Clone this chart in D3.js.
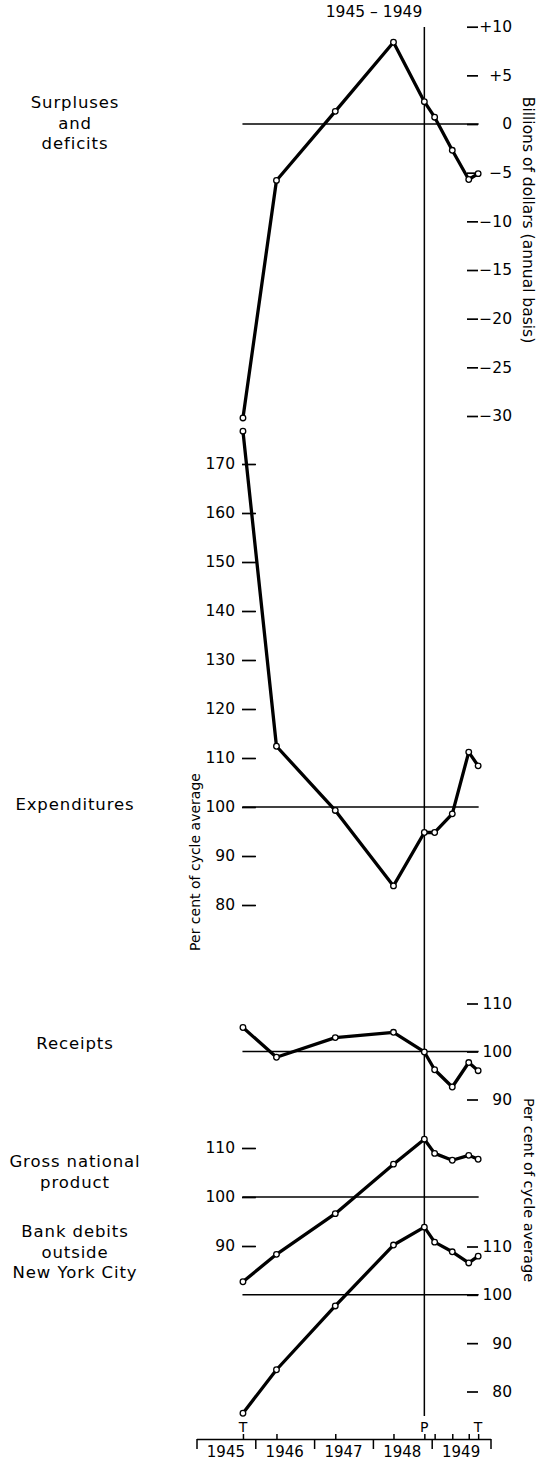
<!DOCTYPE html>
<html>
<head>
<meta charset="utf-8">
<script src="https://cdn.jsdelivr.net/npm/d3@7"></script>
<style>
  body { margin: 0; background: #fff; }
  svg text { font-family: "DejaVu Sans", sans-serif; fill: #000; }
</style>
</head>
<body>
<div id="chart"></div>
<script>
// reference cycle stages I-IX, trough Oct 1945, peak Nov 1948, trough Oct 1949
const stageDates = [1945.79, 1946.36, 1947.36, 1948.35, 1948.875, 1949.05, 1949.35, 1949.63, 1949.79]
const surpluses = [-30.2, -5.8, 1.3, 8.4, 2.3, 0.7, -2.7, -5.7, -5.1]
const expenditures = [176.7, 112.4, 99.3, 83.9, 94.8, 94.8, 98.6, 111.2, 108.4]
const receipts = [105.0, 98.8, 102.9, 104.0, 99.9, 96.2, 92.6, 97.7, 96.0]
const gnp = [82.7, 88.3, 96.6, 106.7, 111.8, 108.9, 107.5, 108.5, 107.7]
const bankDebits = [75.5, 84.5, 97.7, 110.3, 114.0, 110.9, 108.9, 106.6, 108.0]

const years = [1945, 1946, 1947, 1948, 1949]
const turnLabels = ['T', 'P', 'T']
const turnStages = [0, 4, 8]

const surplusTicks = [10, 5, 0, -5, -10, -15, -20, -25, -30]
const expTicks = [170, 160, 150, 140, 130, 120, 110, 100, 90, 80]
const receiptTicks = [110, 100, 90]
const gnpTicks = [110, 100, 90]
const bankTicks = [110, 100, 90, 80]

const width = 543
const height = 1460

const svg = d3.select('#chart')
    .append('svg')
    .attr('width', width)
    .attr('height', height)

const x = d3.scaleLinear().domain([1945, 1950]).range([196.5, 490.5])

const yS = d3.scaleLinear().domain([-30, 10]).range([416, 26.7])
const yE = d3.scaleLinear().domain([80, 170]).range([905, 464])
const yR = d3.scaleLinear().domain([90, 110]).range([1099.5, 1003.5])
const yG = d3.scaleLinear().domain([90, 110]).range([1246, 1148])
const yB = d3.scaleLinear().domain([80, 110]).range([1391.5, 1246.5])

const panels = [
    { values: surpluses, y: yS, ticks: surplusTicks, side: 'right', base: 0,
      fmt: function (d) { return d > 0 ? '+' + d : d < 0 ? '\u2212' + Math.abs(d) : '0' } },
    { values: expenditures, y: yE, ticks: expTicks, side: 'left', base: 100 },
    { values: receipts, y: yR, ticks: receiptTicks, side: 'right', base: 100 },
    { values: gnp, y: yG, ticks: gnpTicks, side: 'left', base: 100 },
    { values: bankDebits, y: yB, ticks: bankTicks, side: 'right', base: 100 }
]

const xStart = x(stageDates[0]) - 0.5
const xEnd = x(stageDates[8]) + 0.5

// base lines (zero / 100)
svg.selectAll('line.base')
    .data(panels)
    .enter()
    .append('line')
    .attr('class', 'base')
    .attr('x1', xStart)
    .attr('x2', xEnd)
    .attr('y1', function (d) { return d.y(d.base) })
    .attr('y2', function (d) { return d.y(d.base) })
    .attr('stroke', '#000')
    .attr('stroke-width', 1.5)

// peak line
svg.append('line')
    .attr('x1', x(stageDates[4]))
    .attr('x2', x(stageDates[4]))
    .attr('y1', 27)
    .attr('y2', 1416)
    .attr('stroke', '#000')
    .attr('stroke-width', 1.5)

// axes
panels.forEach(function (p) {
    let g
    if (p.side === 'right') {
        g = svg.append('g')
            .attr('transform', 'translate(467,0)')
            .call(d3.axisRight(p.y).tickValues(p.ticks).tickSize(11)
                .tickFormat(p.fmt || function (d) { return d }))
        g.selectAll('text').attr('x', 45).attr('text-anchor', 'end')
    } else {
        g = svg.append('g')
            .attr('transform', 'translate(256,0)')
            .call(d3.axisLeft(p.y).tickValues(p.ticks).tickSize(14).tickPadding(7))
    }
    g.attr('font-family', null).attr('font-size', 15.5)
    g.select('.domain').remove()
    g.selectAll('line').attr('stroke', '#000').attr('stroke-width', 1.7)
})

// series
const line = d3.line()
    .x(function (d, i) { return x(stageDates[i]) })

panels.forEach(function (p) {
    svg.append('path')
        .datum(p.values)
        .attr('d', line.y(function (d) { return p.y(d) }))
        .attr('fill', 'none')
        .attr('stroke', '#000')
        .attr('stroke-width', 3.3)
        .attr('stroke-linejoin', 'round')

    svg.selectAll(null)
        .data(p.values)
        .enter()
        .append('circle')
        .attr('cx', function (d, i) { return x(stageDates[i]) })
        .attr('cy', function (d) { return p.y(d) })
        .attr('r', 2.8)
        .attr('fill', '#fff')
        .attr('stroke', '#000')
        .attr('stroke-width', 1.3)
})

// bottom time axis
const axisY = 1439
svg.append('g')
    .attr('transform', 'translate(0,' + axisY + ')')
    .call(d3.axisBottom(x).tickValues(years.concat([1950])).tickSize(10).tickSizeOuter(0).tickFormat(''))
    .call(function (g) {
        g.select('.domain').attr('stroke-width', 1.5)
        g.selectAll('line').attr('stroke-width', 1.5)
    })

svg.append('g')
    .attr('transform', 'translate(0,' + axisY + ')')
    .call(d3.axisTop(x).tickValues(stageDates).tickSize(5).tickFormat(''))
    .call(function (g) {
        g.select('.domain').remove()
        g.selectAll('line').attr('stroke-width', 1.5)
    })

svg.selectAll('text.year')
    .data(years)
    .enter()
    .append('text')
    .attr('class', 'year')
    .attr('x', function (d) { return x(d + 0.5) })
    .attr('y', 1457)
    .attr('text-anchor', 'middle')
    .attr('font-size', 15)
    .text(function (d) { return d })

svg.selectAll('text.turn')
    .data(turnLabels)
    .enter()
    .append('text')
    .attr('class', 'turn')
    .attr('x', function (d, i) { return x(stageDates[turnStages[i]]) })
    .attr('y', 1432)
    .attr('text-anchor', 'middle')
    .attr('font-size', 14)
    .text(function (d) { return d })

// titles
svg.append('text')
    .attr('x', 374)
    .attr('y', 17)
    .attr('text-anchor', 'middle')
    .attr('font-size', 15.5)
    .text('1945 \u2013 1949')

svg.append('text')
    .attr('transform', 'translate(523,220) rotate(90)')
    .attr('text-anchor', 'middle')
    .attr('font-size', 15.5)
    .text('Billions of dollars (annual basis)')

svg.append('text')
    .attr('transform', 'translate(200,862) rotate(-90)')
    .attr('text-anchor', 'middle')
    .attr('font-size', 14)
    .text('Per cent of cycle average')

svg.append('text')
    .attr('transform', 'translate(524,1190) rotate(90)')
    .attr('text-anchor', 'middle')
    .attr('font-size', 14.5)
    .text('Per cent of cycle average')

// row labels
const rowLabels = [
    { lines: ['Surpluses', 'and', 'deficits'], y: 108 },
    { lines: ['Expenditures'], y: 810 },
    { lines: ['Receipts'], y: 1049 },
    { lines: ['Gross national', 'product'], y: 1167 },
    { lines: ['Bank debits', 'outside', 'New York City'], y: 1237 }
]

rowLabels.forEach(function (r) {
    const t = svg.append('text')
        .attr('x', 75)
        .attr('y', r.y)
        .attr('text-anchor', 'middle')
        .attr('font-size', 16.5)
        .attr('letter-spacing', 0.9)
    r.lines.forEach(function (l, i) {
        t.append('tspan')
            .attr('x', 75)
            .attr('dy', i === 0 ? 0 : 20.5)
            .text(l)
    })
})
</script>
</body>
</html>
